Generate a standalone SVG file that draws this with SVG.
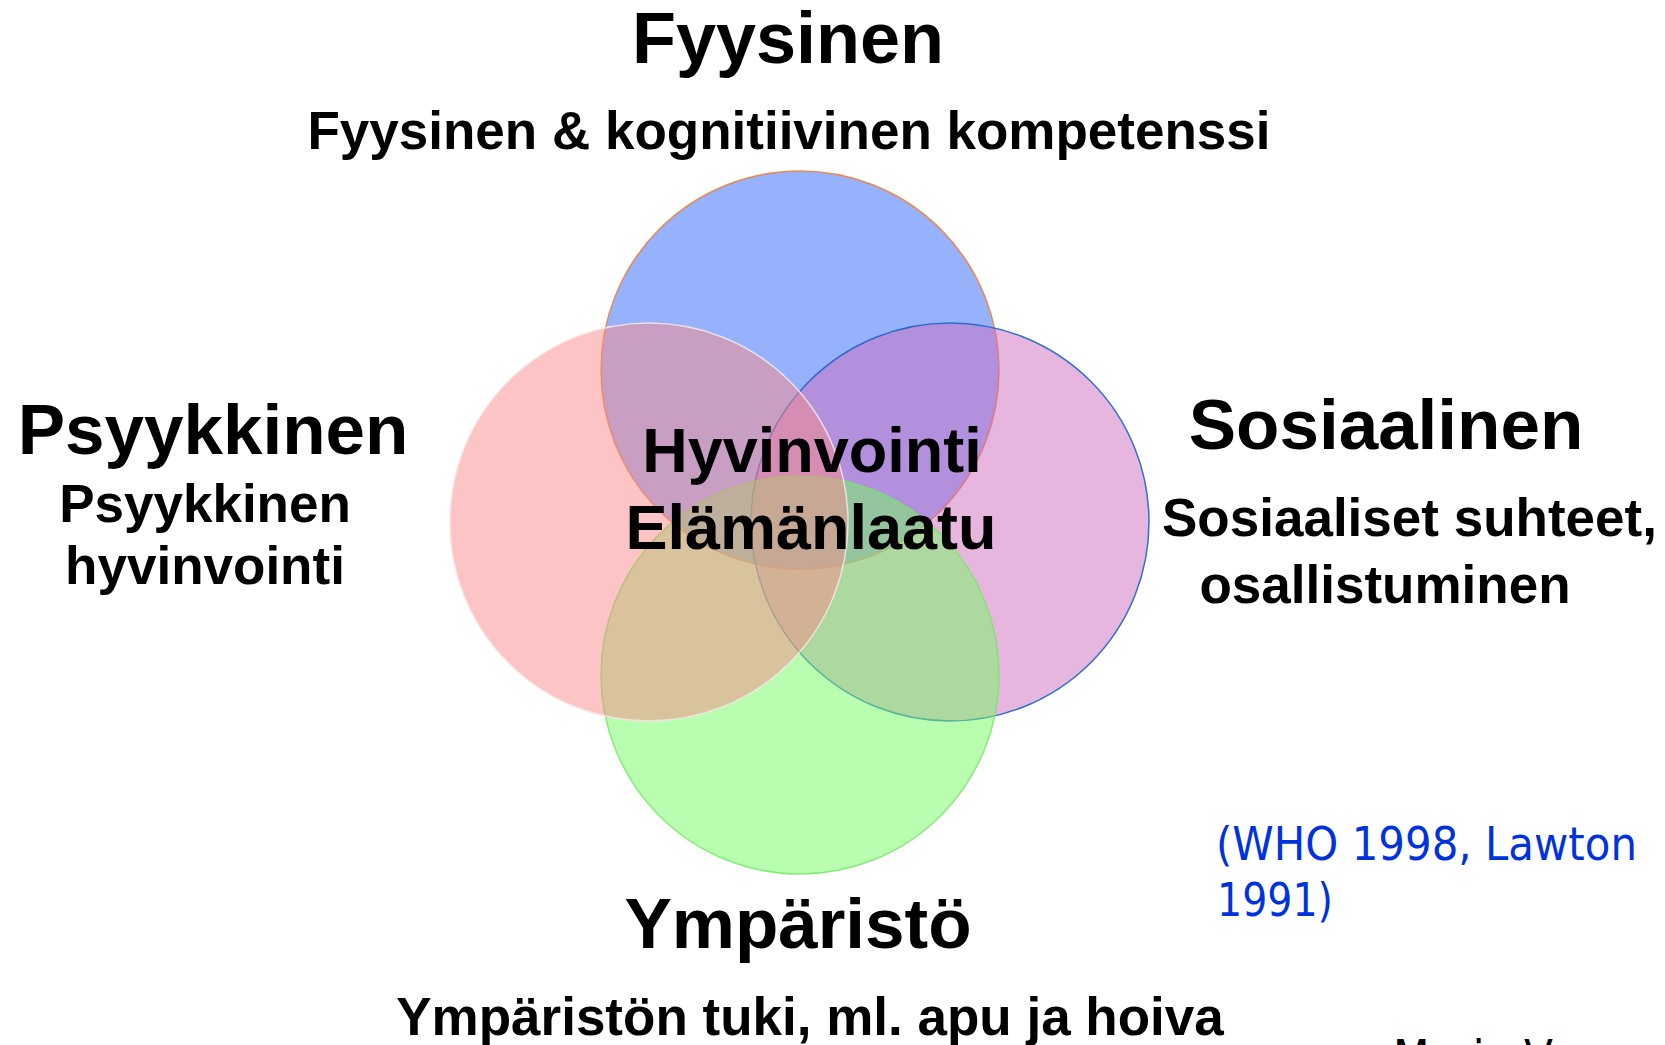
<svg xmlns="http://www.w3.org/2000/svg" width="1665" height="1045" viewBox="0 0 1665 1045">
<style>
.b{font-family:"Liberation Sans",Arial,sans-serif;font-weight:bold;fill:#000}
.c{fill-opacity:0.5;stroke-width:1.5}
.ref{font-family:"DejaVu Sans",Tahoma,sans-serif;font-size:47px;fill:#0033DD}
</style>
<rect width="1665" height="1045" fill="#fff"/>
<g id="circles">
<g id="fyysinen-circle"><circle class="c" cx="800" cy="370" r="199" fill="#2F65F9" stroke="#F0803C" stroke-opacity="0.9"/></g>
<g id="sosiaalinen-circle"><circle class="c" cx="950" cy="522" r="199" fill="#CD6DBD" stroke="#1E64C8" stroke-opacity="0.9"/></g>
<g id="ymparisto-circle"><circle class="c" cx="800" cy="675" r="199" fill="#73FB61" stroke="#70E860" stroke-opacity="0.8"/></g>
<g id="psyykkinen-circle"><circle class="c" cx="649" cy="522" r="199" fill="#F98989" stroke="#F4E4E4" stroke-opacity="0.9"/></g>
</g>
<g id="connectors"></g>
<g id="fyysinen">
<text class="b" x="788" y="63" font-size="72" text-anchor="middle">Fyysinen</text>
<text class="b" x="789" y="149" font-size="53" text-anchor="middle">Fyysinen &amp; kognitiivinen kompetenssi</text>
</g>
<g id="psyykkinen">
<text class="b" x="213" y="454" font-size="71" text-anchor="middle">Psyykkinen</text>
<text class="b" x="205" y="522" font-size="53" text-anchor="middle">Psyykkinen</text>
<text class="b" x="205" y="584" font-size="53" text-anchor="middle">hyvinvointi</text>
</g>
<g id="sosiaalinen">
<text class="b" x="1386" y="449" font-size="71" text-anchor="middle">Sosiaalinen</text>
<text class="b" x="1162" y="536" font-size="53">Sosiaaliset suhteet,</text>
<text class="b" x="1385" y="603" font-size="53" text-anchor="middle">osallistuminen</text>
</g>
<g id="keskus">
<text class="b" x="812" y="472" font-size="63" text-anchor="middle">Hyvinvointi</text>
<text class="b" x="811" y="549" font-size="63" text-anchor="middle">Elämänlaatu</text>
</g>
<g id="ymparisto">
<text class="b" x="798" y="948" font-size="71" text-anchor="middle">Ympäristö</text>
<text class="b" x="810" y="1035" font-size="53" text-anchor="middle">Ympäristön tuki, ml. apu ja hoiva</text>
</g>
<g id="lahde">
<text class="ref" x="1216" y="860" textLength="421" lengthAdjust="spacingAndGlyphs">(WHO 1998, Lawton</text>
<text class="ref" x="1217" y="916" textLength="116" lengthAdjust="spacingAndGlyphs">1991)</text>
<text x="1393" y="1073" font-family="'DejaVu Sans',Tahoma,sans-serif" font-size="46" fill="#000" textLength="160" lengthAdjust="spacingAndGlyphs">Marja V</text>
</g>
</svg>
